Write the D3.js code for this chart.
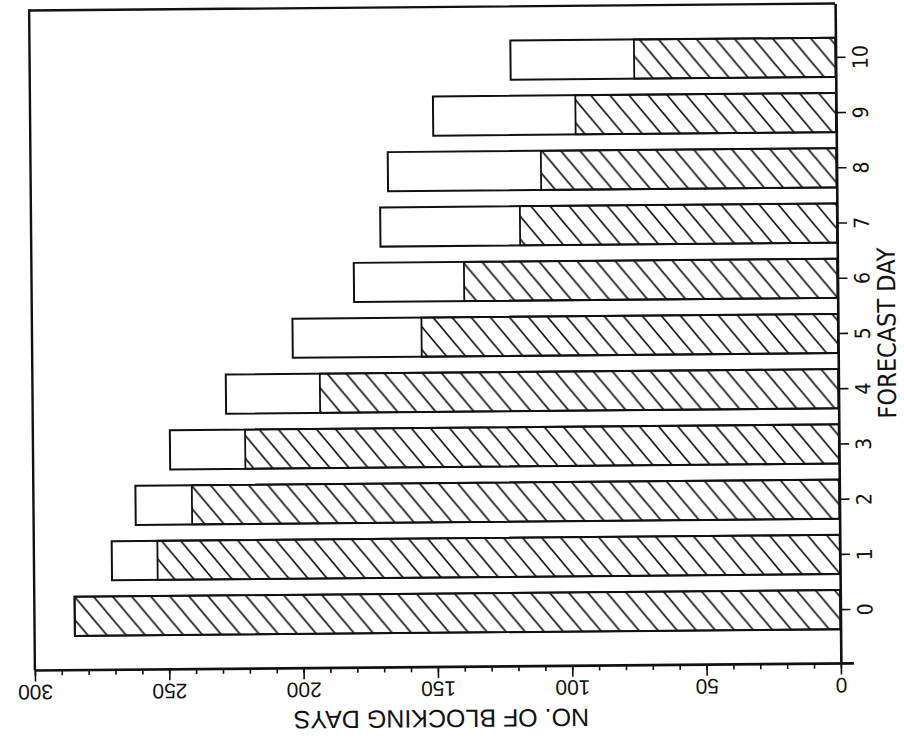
<!DOCTYPE html>
<html lang="en">
<head>
    <meta charset="UTF-8">
    <title>blocking days</title>
    <script src="https://cdn.jsdelivr.net/npm/d3@7"></script>
    <style>
        body { margin: 0; background: #fff; }
        text { fill: #111; }
    </style>
</head>
<body>
<script>
    // forecast day on the category axis, blocking days on the value axis
    const days = [0, 1, 2, 3, 4, 5, 6, 7, 8, 9, 10];
    const totalDays = [285, 271, 262, 249, 228, 203, 180, 170, 167, 150, 121];
    const hatchedDays = [285, 254, 241, 221, 193, 155, 139, 118, 110, 97, 75];
    const majorTicks = [0, 50, 100, 150, 200, 250, 300];
    const minorTicks = d3.range(0, 301, 10);

    const width = 904;
    const height = 745;
    const frame = {left: 32, right: 838, top: 7, bottom: 667};
    const ink = '#111';
    const narrow = '"Liberation Sans Narrow", "DejaVu Sans Condensed", "Liberation Sans", sans-serif';

    const svg = d3.select('body').append('svg')
        .attr('width', width).attr('height', height);

    // the scan sits a little crooked
    const g = svg.append('g').attr('transform', 'rotate(-0.5,436,336)');

    const hatch = svg.append('defs').append('pattern')
        .attr('id', 'hatch')
        .attr('patternUnits', 'userSpaceOnUse')
        .attr('width', 19).attr('height', 23);
    hatch.append('path')
        .attr('d', 'M-19,-23L38,46M0,-23L38,23M-19,0L19,46')
        .attr('stroke', ink).attr('stroke-width', 1.7).attr('fill', 'none');

    const x = d3.scaleLinear().domain([0, 300]).range([frame.right, frame.left]);
    const y = d3.scaleBand().domain(days).range([frame.bottom, frame.top])
        .paddingInner(0.29).paddingOuter(0.62);

    const data = days.map((d, i) => ({day: d, total: totalDays[i], hatched: hatchedDays[i]}));

    // bars: whole count first, hatched part over it
    g.selectAll('rect.total').data(data)
        .join('rect').attr('class', 'total')
        .attr('x', d => x(d.total))
        .attr('y', d => y(d.day))
        .attr('width', d => x(0) - x(d.total))
        .attr('height', y.bandwidth())
        .attr('fill', '#fff').attr('stroke', ink).attr('stroke-width', 2);
    g.selectAll('rect.hatched').data(data)
        .join('rect').attr('class', 'hatched')
        .attr('x', d => x(d.hatched))
        .attr('y', d => y(d.day))
        .attr('width', d => x(0) - x(d.hatched))
        .attr('height', y.bandwidth())
        .attr('fill', 'url(#hatch)').attr('stroke', ink).attr('stroke-width', 1.8);

    // frame: top and left edges
    g.append('path')
        .attr('d', `M${frame.left},${frame.bottom}V${frame.top}H${frame.right}`)
        .attr('fill', 'none').attr('stroke', ink).attr('stroke-width', 2.4);

    // value axis along the bottom, labels upside down
    const axisMinor = g.append('g').attr('transform', `translate(0,${frame.bottom})`)
        .call(d3.axisBottom(x).tickValues(minorTicks).tickSize(5).tickSizeOuter(0).tickFormat(''));
    axisMinor.select('.domain').remove();
    const axisMajor = g.append('g').attr('transform', `translate(0,${frame.bottom})`)
        .call(d3.axisBottom(x).tickValues(majorTicks).tickSize(11).tickSizeOuter(0));
    axisMajor.select('.domain').remove();
    g.selectAll('.tick line').attr('stroke', ink).attr('stroke-width', 1.6);
    axisMajor.selectAll('text')
        .attr('y', null).attr('dy', null)
        .attr('transform', 'translate(0,22) rotate(180)')
        .attr('dominant-baseline', 'central')
        .attr('font-family', '"Liberation Sans", Arial, sans-serif')
        .attr('font-size', 21)
        .attr('fill', ink);
    g.append('line')
        .attr('x1', frame.left).attr('x2', frame.right + 13)
        .attr('y1', frame.bottom).attr('y2', frame.bottom)
        .attr('stroke', ink).attr('stroke-width', 2.6);

    // forecast day axis on the right
    const axisDay = g.append('g').attr('transform', `translate(${frame.right},0)`)
        .call(d3.axisRight(y).tickSize(10).tickSizeOuter(0));
    axisDay.select('.domain').attr('stroke', ink).attr('stroke-width', 2.6);
    axisDay.selectAll('.tick line').attr('stroke', ink).attr('stroke-width', 1.6);
    axisDay.selectAll('text')
        .attr('x', null).attr('dy', null)
        .attr('transform', 'translate(25,0) rotate(-90)')
        .attr('text-anchor', 'middle')
        .attr('dominant-baseline', 'central')
        .attr('font-family', narrow)
        .attr('font-size', 21)
        .attr('fill', ink);

    g.append('text').text('NO. OF BLOCKING DAYS')
        .attr('transform', `translate(${(frame.left + frame.right) / 2 + 3},${frame.bottom + 52}) rotate(180)`)
        .attr('text-anchor', 'middle')
        .attr('dominant-baseline', 'central')
        .attr('font-family', '"Liberation Sans", Arial, sans-serif')
        .attr('font-size', 25);
    g.append('text').text('FORECAST DAY')
        .attr('transform', `translate(${frame.right + 49},${(frame.top + frame.bottom) / 2}) rotate(-90)`)
        .attr('text-anchor', 'middle')
        .attr('dominant-baseline', 'central')
        .attr('font-family', narrow)
        .attr('font-size', 25);
</script>
</body>
</html>
